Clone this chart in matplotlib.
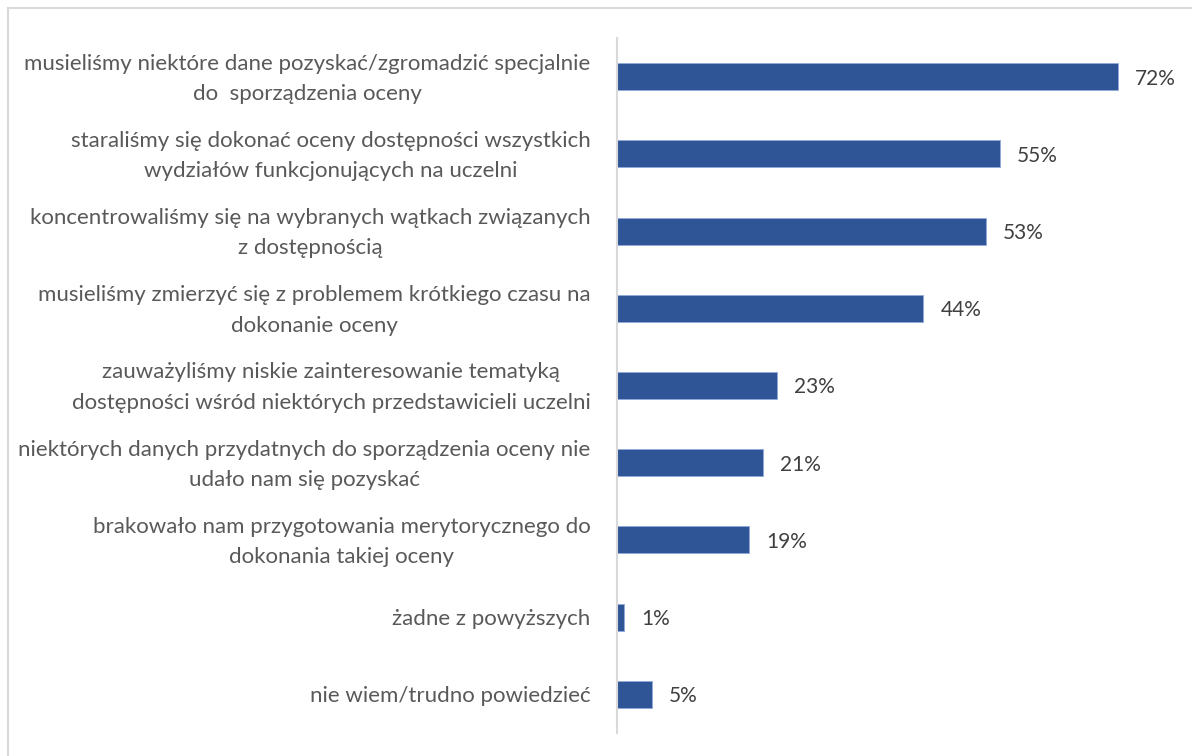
import matplotlib
matplotlib.use("Agg")
import matplotlib.pyplot as plt
from matplotlib.lines import Line2D
from matplotlib.transforms import ScaledTranslation

categories = [
    "musieliśmy niektóre dane pozyskać/zgromadzić specjalnie\ndo  sporządzenia oceny",
    "staraliśmy się dokonać oceny dostępności wszystkich\nwydziałów funkcjonujących na uczelni",
    "koncentrowaliśmy się na wybranych wątkach związanych\nz dostępnością",
    "musieliśmy zmierzyć się z problemem krótkiego czasu na\ndokonanie oceny",
    "zauważyliśmy niskie zainteresowanie tematyką\ndostępności wśród niektórych przedstawicieli uczelni",
    "niektórych danych przydatnych do sporządzenia oceny nie\nudało nam się pozyskać",
    "brakowało nam przygotowania merytorycznego do\ndokonania takiej oceny",
    "żadne z powyższych",
    "nie wiem/trudno powiedzieć",
]
values = [72, 55, 53, 44, 23, 21, 19, 1, 5]
value_labels = ["72%", "55%", "53%", "44%", "23%", "21%", "19%", "1%", "5%"]

plt.rcParams['font.family'] = ['Lato', 'DejaVu Sans']

fig = plt.figure(figsize=(11.92, 7.56), dpi=100)
ax = fig.add_axes([617/1192, 23/756, (1174-617)/1192, (733-38)/756])

ypos = list(range(len(categories)))
ax.barh(ypos, values, height=0.35, color="#2F5597", edgecolor="#8FAADC", linewidth=0.6)
ax.set_ylim(len(categories) - 0.5, -0.5)
ax.set_xlim(0, 80)

for y, v, lab in zip(ypos, values, value_labels):
    ax.annotate(lab, (v, y), xytext=(17, -2), textcoords="offset pixels",
                ha="left", va="center", fontsize=15, color="#404040")

ax.set_yticks(ypos)
ax.set_yticklabels(categories, fontsize=16, color="#595959", multialignment="center",
                   linespacing=1.65)
ax.tick_params(axis="y", length=0, pad=19)
for lbl in ax.get_yticklabels():
    if "\n" in lbl.get_text():
        lbl.set_transform(lbl.get_transform() + ScaledTranslation(0, 5/100, fig.dpi_scale_trans))
ax.set_xticks([])
for s in ["top", "right", "bottom"]:
    ax.spines[s].set_visible(False)
ax.spines["left"].set_color("#D9D9D9")
ax.spines["left"].set_linewidth(1.5)

# chart frame (partially visible)
fig.add_artist(Line2D([8/1192, 8/1192], [0, 1 - 8/756], transform=fig.transFigure,
                      color="#D9D9D9", linewidth=1.5))
fig.add_artist(Line2D([8/1192, 1], [1 - 8/756, 1 - 8/756], transform=fig.transFigure,
                      color="#D9D9D9", linewidth=1.5))

fig.savefig("out.png", dpi=100, facecolor="white")
